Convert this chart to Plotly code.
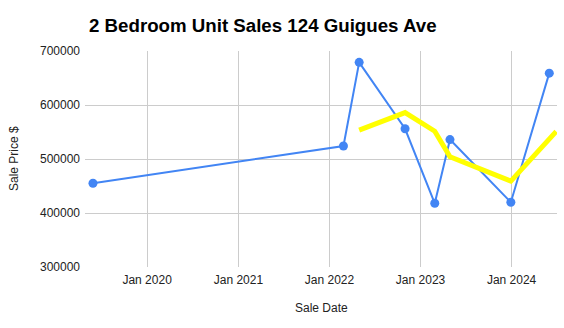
import plotly.graph_objects as go

# Data
sale_dates = ["2019-05-29", "2022-02-26", "2022-04-30", "2022-10-31",
              "2023-02-27", "2023-04-29", "2023-12-29", "2024-05-31"]
sale_prices = [455000, 524000, 679000, 556000, 418000, 536000, 420000, 659000]

trend_dates = ["2022-04-30", "2022-10-31", "2023-02-27", "2023-04-29",
               "2023-12-29", "2024-06-28"]
trend_values = [553500, 586000, 551500, 504000, 459000, 551000]

x_tick_vals = ["2020-01-01", "2021-01-01", "2022-01-01", "2023-01-01", "2024-01-01"]
x_tick_text = ["Jan 2020", "Jan 2021", "Jan 2022", "Jan 2023", "Jan 2024"]
y_tick_vals = [300000, 400000, 500000, 600000, 700000]

title_text = "2 Bedroom Unit Sales 124 Guigues Ave"
x_title = "Sale Date"
y_title = "Sale Price $"

FONT = "Arial, 'Liberation Sans', sans-serif"

fig = go.Figure()
fig.add_trace(go.Scatter(
    x=sale_dates, y=sale_prices, mode="lines+markers",
    line=dict(color="#4285F4", width=2),
    marker=dict(color="#4285F4", size=9),
    hoverinfo="skip", showlegend=False,
))
fig.add_trace(go.Scatter(
    x=trend_dates, y=trend_values, mode="lines",
    line=dict(color="#FFFF00", width=5),
    hoverinfo="skip", showlegend=False,
))

fig.update_layout(
    width=564, height=328,
    margin=dict(l=85, r=7, t=51, b=61, autoexpand=False),
    paper_bgcolor="white", plot_bgcolor="white",
    font=dict(family=FONT, size=12, color="#222222"),
    title=dict(text="<b>" + title_text + "</b>", x=89 / 564, xanchor="left",
               xref="container",
               y=1 - 25 / 328, yanchor="middle", yref="container",
               font=dict(family=FONT, size=18.7, color="#000000")),
    xaxis=dict(
        type="date", range=["2019-04-27", "2024-07-01"],
        tickvals=x_tick_vals, ticktext=x_tick_text,
        showgrid=True, gridcolor="#cccccc", gridwidth=1,
        showline=False, zeroline=False, ticks="", ticklabelstandoff=4,
        tickfont=dict(family=FONT, size=12, color="#222222"),
        fixedrange=True,
    ),
    yaxis=dict(
        range=[300000, 700000], tickvals=y_tick_vals,
        tickformat="d",
        showgrid=True, gridcolor="#cccccc", gridwidth=1,
        showline=False, zeroline=False, ticks="", ticklabelstandoff=4,
        tickfont=dict(family=FONT, size=12, color="#222222"),
        fixedrange=True,
    ),
    annotations=[
        dict(text=x_title, xref="paper", yref="paper", x=0.5, y=-41 / 217,
             xanchor="center", yanchor="middle", showarrow=False,
             font=dict(family=FONT, size=12, color="#222222")),
        dict(text=y_title, xref="paper", yref="paper", x=-71 / 472, y=0.5,
             xanchor="center", yanchor="middle", showarrow=False, textangle=-90,
             font=dict(family=FONT, size=12, color="#222222")),
    ],
)

fig.write_html("out.html")
